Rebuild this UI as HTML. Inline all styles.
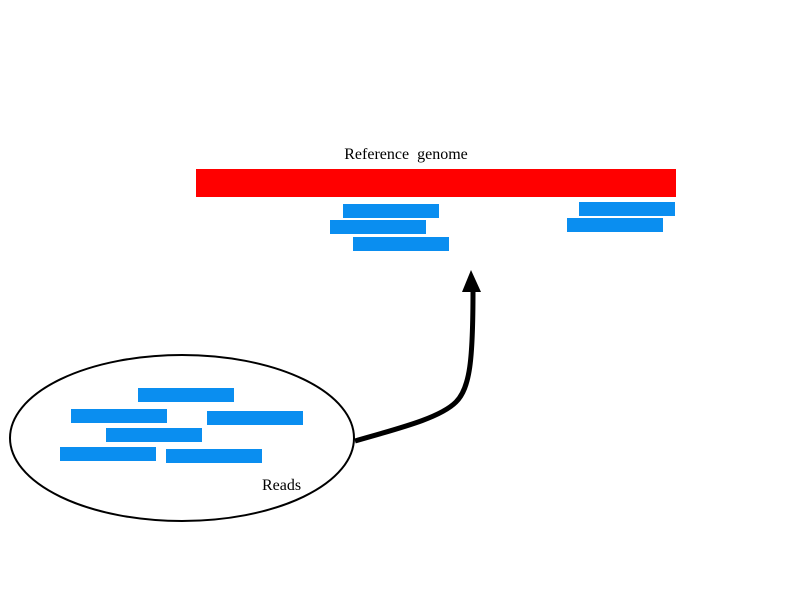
<!DOCTYPE html>
<html><head><style>body{margin:0;background:#fff}svg{display:block}</style></head>
<body>
<svg width="800" height="600" xmlns="http://www.w3.org/2000/svg">
<rect width="800" height="600" fill="#fff"/>
<text x="406" y="159" text-anchor="middle" font-family="Liberation Serif, serif" font-size="16" fill="#000" word-spacing="4">Reference genome</text>
<rect x="196" y="169" width="480" height="28" fill="#ff0000"/>
<g fill="#0a8ef0">
<rect x="343" y="204" width="96" height="14"/>
<rect x="330" y="220" width="96" height="14"/>
<rect x="353" y="237" width="96" height="14"/>
<rect x="579" y="202" width="96" height="14"/>
<rect x="567" y="218" width="96" height="14"/>
</g>
<ellipse cx="182" cy="438" rx="172" ry="83" fill="#fff" stroke="#000" stroke-width="2"/>
<g fill="#0a8ef0">
<rect x="138" y="388" width="96" height="14"/>
<rect x="71" y="409" width="96" height="14"/>
<rect x="207" y="411" width="96" height="14"/>
<rect x="106" y="428" width="96" height="14"/>
<rect x="60" y="447" width="96" height="14"/>
<rect x="166" y="449" width="96" height="14"/>
</g>
<text x="262" y="490" font-family="Liberation Serif, serif" font-size="16" fill="#000">Reads</text>
<path d="M355,441 C400,428 440,418 456,402 C470,388 473,360 473,290" fill="none" stroke="#000" stroke-width="5"/>
<polygon points="471,270 462,292 481,292" fill="#000"/>
</svg>
</body></html>
